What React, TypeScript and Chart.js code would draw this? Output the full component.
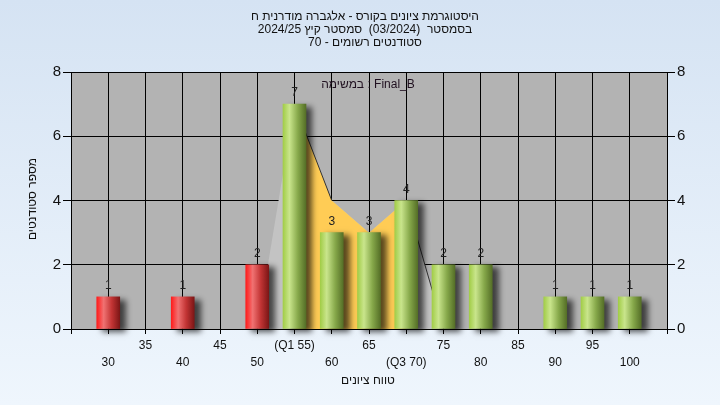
import React, { useEffect, useRef } from "react";
import { Chart, registerables } from "chart.js";

Chart.register(...registerables);

// ---- data ----
const scores = [30, 35, 40, 45, 50, 55, 60, 65, 70, 75, 80, 85, 90, 95, 100];
const counts = [1, 0, 1, 0, 2, 7, 3, 3, 4, 2, 2, 0, 1, 1, 1];
const xTickLabels = ["30", "35", "40", "45", "50", "(Q1 55)", "60", "65", "(Q3 70)", "75", "80", "85", "90", "95", "100"];
const passMark = 55;
const q1 = 55;
const q3 = 70;
const curveX = [50, 55, 60, 65, 70, 75];
const curveY = [0, 7, 4, 3, 4, 0];
const lineSegmentsFrom = [55, 70];
const yTicks = [0, 2, 4, 6, 8];

const titleLines = [
  "היסטוגרמת ציונים בקורס - אלגברה מודרנית ח",
  "בסמסטר  (03/2024)  סמסטר קיץ 2024/25",
  "סטודנטים רשומים - 70",
];
const legendText = "במשימה : Final_B";
const yTitle = "מספר סטודנטים";
const xTitle = "טווח ציונים";

const FONT = "'Liberation Sans', Arial, sans-serif";

const bgPlugin = {
  id: "bgPlugin",
  beforeDraw(chart: any) {
    const { ctx, width, height, chartArea } = chart;
    ctx.save();
    const g = ctx.createLinearGradient(0, 0, 0, height);
    g.addColorStop(0, "#d5e3f3");
    g.addColorStop(1, "#eff6fd");
    ctx.fillStyle = g;
    ctx.fillRect(0, 0, width, height);
    ctx.fillStyle = "#b3b3b3";
    ctx.fillRect(chartArea.left, chartArea.top, chartArea.right - chartArea.left, chartArea.bottom - chartArea.top);
    ctx.restore();
  },
};

const shadowPlugin = {
  id: "shadowPlugin",
  beforeDatasetDraw(chart: any, args: any) {
    if (args.index !== 0) return;
    const ctx = chart.ctx;
    ctx.save();
    ctx.shadowColor = "rgba(0,0,0,0.65)";
    ctx.shadowBlur = 6;
    ctx.shadowOffsetX = 6;
    ctx.shadowOffsetY = 3;
  },
  afterDatasetDraw(chart: any, args: any) {
    if (args.index !== 0) return;
    chart.ctx.restore();
  },
};

const textPlugin = {
  id: "textPlugin",
  afterDatasetsDraw(chart: any) {
    const ctx = chart.ctx;
    const meta = chart.getDatasetMeta(0);
    const ds = chart.data.datasets[0].data as any[];
    ctx.save();
    ctx.font = `12px ${FONT}`;
    ctx.fillStyle = "#222";
    ctx.textAlign = "center";
    ctx.textBaseline = "middle";
    meta.data.forEach((el: any, i: number) => {
      ctx.fillText(String(ds[i].y), el.x, el.y - 11);
    });
    ctx.restore();
  },
  afterDraw(chart: any) {
    const ctx = chart.ctx;
    ctx.save();
    ctx.fillStyle = "#111";
    ctx.textAlign = "center";
    ctx.textBaseline = "middle";
    ctx.font = `12px ${FONT}`;
    ctx.direction = "rtl";
    titleLines.forEach((t, i) => ctx.fillText(t, 365, 17 + i * 13));
    ctx.fillText(xTitle, 368, 381);
    ctx.direction = "ltr";
    ctx.fillStyle = "#201020";
    ctx.fillText(legendText, 368, 85);
    ctx.fillStyle = "#111";
    ctx.direction = "rtl";
    ctx.translate(33, 199);
    ctx.rotate(-Math.PI / 2);
    ctx.fillText(yTitle, 0, 0);
    ctx.restore();
  },
};

function barGradient(c: any) {
  const score = c.raw && c.raw.x;
  const isFail = score < passMark;
  const fallback = isFail ? "#e02020" : "#9fcb45";
  if (c.type !== "data") return fallback;
  const chart = c.chart;
  const xs = chart.scales && chart.scales.x;
  if (!xs) return fallback;
  const cx = xs.getPixelForValue(score);
  if (!Number.isFinite(cx)) return fallback;
  const g = chart.ctx.createLinearGradient(cx - 11.5, 0, cx + 11.5, 0);
  if (isFail) {
    g.addColorStop(0, "#ff1c1c");
    g.addColorStop(0.3, "#f07272");
    g.addColorStop(0.65, "#c23434");
    g.addColorStop(1, "#7c1616");
  } else {
    g.addColorStop(0, "#a2cd48");
    g.addColorStop(0.28, "#c9e58c");
    g.addColorStop(0.65, "#86a84a");
    g.addColorStop(1, "#556f27");
  }
  return g;
}

export default function App() {
  const ref = useRef<HTMLCanvasElement | null>(null);

  useEffect(() => {
    if (!ref.current) return;
    const barData = scores.map((s, i) => ({ x: s, y: counts[i] })).filter((p) => p.y > 0);
    const curveData = curveX.map((x, i) => ({ x, y: curveY[i] }));
    const iqrData = curveData.filter((p) => p.x >= q1 && p.x <= q3);

    const chart = new Chart(ref.current, {
      type: "bar",
      data: {
        datasets: [
          {
            type: "bar",
            data: barData,
            backgroundColor: barGradient,
            borderWidth: 0,
            barThickness: 23,
            order: 0,
            clip: false,
          } as any,
          {
            type: "line",
            data: curveData,
            fill: false,
            borderWidth: 1,
            borderColor: "transparent",
            pointRadius: 0,
            segment: {
              borderColor: (s: any) =>
                lineSegmentsFrom.includes(s.p0.parsed.x) ? "#333333" : "transparent",
            },
            order: 1,
          } as any,
          {
            type: "line",
            data: iqrData,
            fill: "origin",
            backgroundColor: "#ffcc55",
            borderWidth: 0,
            borderColor: "transparent",
            pointRadius: 0,
            order: 2,
          } as any,
          {
            type: "line",
            data: curveData,
            fill: "origin",
            backgroundColor: "#c3c3c3",
            borderWidth: 0,
            borderColor: "transparent",
            pointRadius: 0,
            order: 3,
          } as any,
        ],
      },
      options: {
        animation: false,
        responsive: false,
        layout: { padding: { top: 72, left: 0, right: 0, bottom: 0 } },
        plugins: {
          legend: { display: false },
          title: { display: false },
          tooltip: { enabled: false },
        },
        scales: {
          x: {
            type: "linear",
            offset: false,
            min: 25,
            max: 105,
            afterFit: (s: any) => {
              s.height = 76;
            },
            grid: { color: "#000", lineWidth: 1, tickLength: 5, drawTicks: true, offset: false },
            border: { color: "#000" },
            ticks: {
              stepSize: 5,
              autoSkip: false,
              maxRotation: 0,
              minRotation: 0,
              color: "#111",
              padding: 3,
              font: { family: FONT, size: 12, lineHeight: 1.4 },
              callback: (value: any) => {
                const i = scores.indexOf(Number(value));
                if (i < 0) return "";
                const lbl = xTickLabels[i];
                return (Number(value) / 5) % 2 === 1 ? [lbl, ""] : ["", lbl];
              },
            },
          },
          y: {
            type: "linear",
            position: "left",
            min: 0,
            max: 8,
            afterFit: (s: any) => {
              s.width = 71;
            },
            afterBuildTicks: (s: any) => {
              s.ticks = yTicks.map((v) => ({ value: v }));
            },
            grid: { color: "#000", lineWidth: 1, tickLength: 8 },
            border: { color: "#000" },
            ticks: { color: "#111", padding: 2, font: { family: FONT, size: 15 } },
          },
          y2: {
            type: "linear",
            position: "right",
            min: 0,
            max: 8,
            afterFit: (s: any) => {
              s.width = 53;
            },
            afterBuildTicks: (s: any) => {
              s.ticks = yTicks.map((v) => ({ value: v }));
            },
            grid: { color: "#000", lineWidth: 1, tickLength: 8, drawOnChartArea: false },
            border: { color: "#000" },
            ticks: { color: "#111", padding: 2, font: { family: FONT, size: 15 } },
          },
        },
      } as any,
      plugins: [bgPlugin, shadowPlugin, textPlugin],
    });
    return () => chart.destroy();
  }, []);

  return (
    <div style={{ position: "fixed", left: 0, top: 0, width: 720, height: 405 }}>
      <canvas ref={ref} width={720} height={405} style={{ display: "block" }} />
    </div>
  );
}
